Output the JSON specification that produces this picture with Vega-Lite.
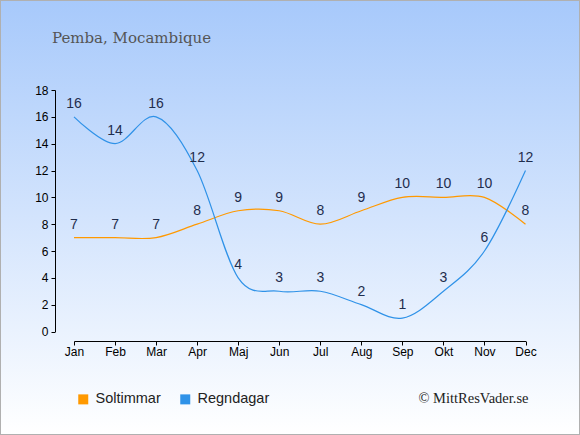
{
  "$schema": "https://vega.github.io/schema/vega-lite/v6.json",
  "width": 580,
  "height": 435,
  "autosize": {"type": "none"},
  "padding": 0,
  "background": "#ffffff",
  "title": {
    "text": "Pemba, Mocambique",
    "anchor": "start",
    "frame": "group",
    "offset": 0,
    "dx": 52,
    "dy": 58,
    "baseline": "alphabetic",
    "font": "DejaVu Serif",
    "fontSize": 15,
    "fontWeight": "normal",
    "color": "#555555"
  },
  "data": {
    "values": [
      {"month": "Jan", "series": "Soltimmar", "value": 7},
      {"month": "Feb", "series": "Soltimmar", "value": 7},
      {"month": "Mar", "series": "Soltimmar", "value": 7},
      {"month": "Apr", "series": "Soltimmar", "value": 8},
      {"month": "Maj", "series": "Soltimmar", "value": 9},
      {"month": "Jun", "series": "Soltimmar", "value": 9},
      {"month": "Jul", "series": "Soltimmar", "value": 8},
      {"month": "Aug", "series": "Soltimmar", "value": 9},
      {"month": "Sep", "series": "Soltimmar", "value": 10},
      {"month": "Okt", "series": "Soltimmar", "value": 10},
      {"month": "Nov", "series": "Soltimmar", "value": 10},
      {"month": "Dec", "series": "Soltimmar", "value": 8},
      {"month": "Jan", "series": "Regndagar", "value": 16},
      {"month": "Feb", "series": "Regndagar", "value": 14},
      {"month": "Mar", "series": "Regndagar", "value": 16},
      {"month": "Apr", "series": "Regndagar", "value": 12},
      {"month": "Maj", "series": "Regndagar", "value": 4},
      {"month": "Jun", "series": "Regndagar", "value": 3},
      {"month": "Jul", "series": "Regndagar", "value": 3},
      {"month": "Aug", "series": "Regndagar", "value": 2},
      {"month": "Sep", "series": "Regndagar", "value": 1},
      {"month": "Okt", "series": "Regndagar", "value": 3},
      {"month": "Nov", "series": "Regndagar", "value": 6},
      {"month": "Dec", "series": "Regndagar", "value": 12}
    ]
  },
  "layer": [
    {
      "mark": {"type": "line", "interpolate": "cardinal", "strokeWidth": 1.2},
      "encoding": {
        "x": {
          "field": "month",
          "type": "ordinal",
          "sort": null,
          "scale": {
            "type": "point",
            "domain": ["Jan", "Feb", "Mar", "Apr", "Maj", "Jun", "Jul", "Aug", "Sep", "Okt", "Nov", "Dec"],
            "range": [74, 525.5],
            "padding": 0
          },
          "axis": {
            "title": "© MittResVader.se",
            "titleX": 528,
            "titleY": 61,
            "titleAlign": "right",
            "titleBaseline": "alphabetic",
            "titleFont": "Liberation Serif",
            "titleFontSize": 14.5,
            "titleFontWeight": "normal",
            "titleColor": "#222222",
            "offset": -94,
            "labelAngle": 0,
            "labelFont": "Liberation Sans",
            "labelFontSize": 12,
            "labelColor": "#000000",
            "labelPadding": 1,
            "tickSize": 4,
            "tickColor": "#000000",
            "domainColor": "#000000",
            "grid": false
          }
        },
        "y": {
          "field": "value",
          "type": "quantitative",
          "scale": {"domain": [0, 18], "range": [331.5, 90], "nice": false},
          "axis": {
            "title": null,
            "offset": -55,
            "values": [0, 2, 4, 6, 8, 10, 12, 14, 16, 18],
            "labelFont": "Liberation Sans",
            "labelFontSize": 12,
            "labelColor": "#000000",
            "labelPadding": 3,
            "tickSize": 4,
            "tickColor": "#000000",
            "domainColor": "#000000",
            "grid": false
          }
        },
        "color": {
          "field": "series",
          "type": "nominal",
          "scale": {"domain": ["Soltimmar", "Regndagar"], "range": ["#ff9900", "#2f92e8"]},
          "legend": {
            "orient": "none",
            "legendX": 76,
            "legendY": 392,
            "direction": "horizontal",
            "title": null,
            "symbolType": "square",
            "symbolSize": 100,
            "symbolStrokeWidth": 0,
            "symbolOpacity": 1,
            "labelFont": "Liberation Sans",
            "labelFontSize": 14.5,
            "labelColor": "#222222",
            "labelOffset": 5,
            "columnPadding": 17,
            "encode": {
              "symbols": {
                "update": {
                  "fill": {"scale": "color", "field": "value"},
                  "stroke": {"value": "transparent"}
                }
              }
            }
          }
        },
        "order": {"value": null}
      }
    },
    {
      "mark": {
        "type": "text",
        "dy": -9,
        "baseline": "alphabetic",
        "fontSize": 14,
        "font": "Liberation Sans",
        "color": "#1f2d4d"
      },
      "encoding": {
        "x": {"field": "month", "type": "ordinal", "sort": null},
        "y": {"field": "value", "type": "quantitative"},
        "text": {"field": "value", "type": "quantitative"}
      }
    }
  ],
  "config": {
    "view": {
      "fill": {
        "gradient": "linear",
        "x1": 0, "y1": 0, "x2": 0, "y2": 1,
        "stops": [
          {"offset": 0, "color": "#a7c9fb"},
          {"offset": 1, "color": "#ffffff"}
        ]
      },
      "stroke": "#b0b0b0",
      "strokeWidth": 2
    }
  }
}
